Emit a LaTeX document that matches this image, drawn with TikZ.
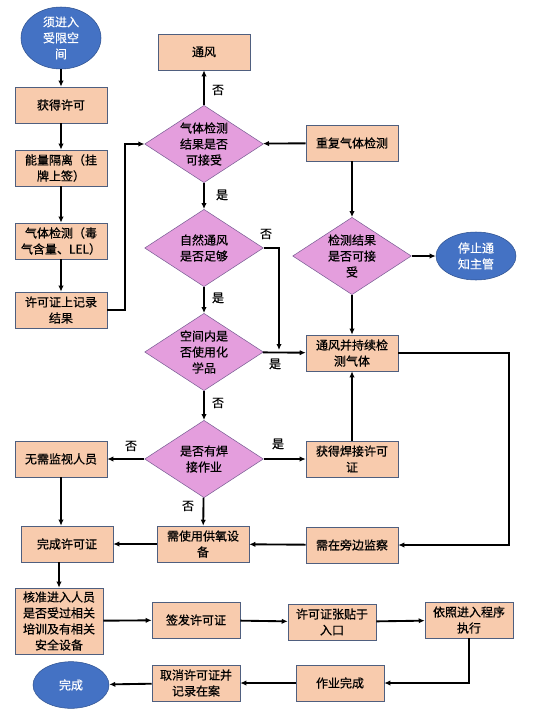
\documentclass[tikz,border=0pt]{standalone}
\usepackage{fontspec}
\newfontfamily\cjk[FakeBold=0.6]{Noto Sans CJK SC}
\usetikzlibrary{shapes.geometric,arrows.meta}
\definecolor{boxfill}{HTML}{F8CBAD}
\definecolor{boxline}{HTML}{4F5F7F}
\definecolor{dmdfill}{HTML}{E49EDD}
\definecolor{dmdline}{HTML}{7B5F95}
\definecolor{ellfill}{HTML}{4472C4}
\definecolor{ellline}{HTML}{2F528F}

\begin{document}
\begin{tikzpicture}[x=0.75pt,y=-0.75pt,
    font=\cjk\fontsize{9}{12}\selectfont,
    box/.style={draw=boxline,fill=boxfill,align=center,inner sep=1pt,
        minimum width=69pt,minimum height=27pt},
    dmd/.style={diamond,draw=dmdline,fill=dmdfill,align=center,inner sep=0pt,
        aspect=1.5,minimum width=89pt,minimum height=58pt},
    ell/.style={ellipse,draw=ellline,fill=ellfill,text=white,align=center,inner sep=0pt},
    arr/.style={line width=1.4pt,-{Latex[length=4.5pt,width=4pt]}},
    lbl/.style={inner sep=1pt}]
    \useasboundingbox (0,0) rectangle (544,717);

    % left column
    \node[ell,minimum width=60pt,minimum height=46.5pt] (start) at (61,38) {须进入\\受限空\\间};
    \node[box] (permit) at (61,105) {获得许可};
    \node[box] (isolate) at (61,168) {能量隔离（挂\\牌上签）};
    \node[box] (gastest) at (61,241) {气体检测（毒\\气含量、LEL）};
    \node[box] (record) at (61,310) {许可证上记录\\结果};
    \node[box] (noneed) at (61,459) {无需监视人员};
    \node[box] (finish) at (67,544) {完成许可证};

    % middle column
    \node[box] (vent) at (204,52) {通风};
    \node[dmd] (dgas) at (204,144) {气体检测\\结果是否\\可接受};
    \node[dmd] (dnat) at (204,248) {自然通风\\是否足够};
    \node[dmd] (dchem) at (204,352) {空间内是\\否使用化\\学品};
    \node[dmd] (dweld) at (204,459) {是否有焊\\接作业};
    \node[box] (oxygen) at (203,544) {需使用供氧设\\备};

    % right column
    \node[box] (retest) at (352,143) {重复气体检测};
    \node[dmd] (dretest) at (352,256) {检测结果\\是否可接\\受};
    \node[ell,minimum width=60pt,minimum height=36pt] (stop) at (476,256) {停止通\\知主管};
    \node[box] (ventmon) at (352,353) {通风并持续检\\测气体};
    \node[box] (weldpermit) at (352,459) {获得焊接许可\\证};
    \node[box] (watch) at (352,545) {需在旁边监察};

    % bottom rows
    \node[box,minimum width=66pt,minimum height=49.5pt] (verify) at (59,621) {核准进入人员\\是否受过相关\\培训及有相关\\安全设备};
    \node[box,minimum width=66pt] (issue) at (196,620) {签发许可证};
    \node[box,minimum width=66pt] (post) at (332,622) {许可证张贴于\\入口};
    \node[box,minimum width=66pt] (follow) at (469,620) {依照进入程序\\执行};
    \node[box,minimum width=66pt] (workdone) at (340,683) {作业完成};
    \node[box,minimum width=66pt] (cancel) at (196,683) {取消许可证并\\记录在案};
    \node[ell,minimum width=57pt,minimum height=35pt] (done) at (71,685) {完成};

    % connectors
    \draw[arr] (start) -- (permit);
    \draw[arr] (permit) -- (isolate);
    \draw[arr] (isolate) -- (gastest);
    \draw[arr] (gastest) -- (record);
    \draw[arr] (record.east) -- ++(18,0) |- (dgas.west);
    \draw[arr] (dgas) -- (vent);
    \draw[arr] (dgas) -- (dnat);
    \draw[arr] (retest) -- (dgas);
    \draw[arr] (retest) -- (dretest);
    \coordinate (nat) at (279,350);
    \draw[arr] (dnat.east) -| (nat);
    \draw[arr] (dnat) -- (dchem);
    \draw[arr] (dchem) -- (ventmon);
    \draw[arr] (dchem) -- (dweld);
    \draw[arr] (dretest) -- (ventmon);
    \draw[arr] (dretest) -- (stop);
    \draw[arr] (dweld) -- (noneed);
    \draw[arr] (dweld) -- (weldpermit);
    \draw[arr] (dweld) -- (oxygen);
    \draw[arr] (weldpermit) -- (ventmon);
    \draw[arr] (ventmon.east) -- ++(111,0) |- (watch.east);
    \draw[arr] (watch) -- (oxygen);
    \draw[arr] (oxygen) -- (finish);
    \draw[arr] (noneed.south) -- (noneed.south |- finish.north);
    \draw[arr] (finish.south -| verify.north) -- (verify.north);
    \draw[arr] (verify) -- (issue);
    \draw[arr] (issue) -- (post);
    \draw[arr] (post) -- (follow);
    \draw[arr] (follow.south) |- (workdone.east);
    \draw[arr] (workdone) -- (cancel);
    \draw[arr] (cancel) -- (done);

    % yes / no labels
    \node[lbl] (n1) at (218,90) {否};
    \node[lbl] (y1) at (222,195) {是};
    \node[lbl] (n2) at (266,234) {否};
    \node[lbl] (y2) at (218,298) {是};
    \node[lbl] (y3) at (275,364) {是};
    \node[lbl] (n3) at (218,403) {否};
    \node[lbl] (n4) at (131,446) {否};
    \node[lbl] (y4) at (278,444) {是};
    \node[lbl] (n5) at (188,506) {否};
\end{tikzpicture}
\end{document}
